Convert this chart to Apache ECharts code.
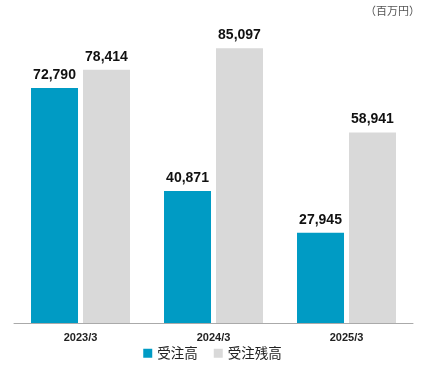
<!DOCTYPE html>
<html><head><meta charset="utf-8">
<script src="https://cdn.jsdelivr.net/npm/echarts@6/dist/echarts.min.js"></script>
<style>html,body{margin:0;padding:0;background:#fff}#c{width:425px;height:380px}</style>
</head><body><div id="c"></div>
<script>
const categories = ['2023/3', '2024/3', '2025/3'];
const orders = [72790, 40871, 27945];
const backlog = [78414, 85097, 58941];
const seriesNames = ['受注高', '受注残高'];
const unitLabel = '（百万円）';

const chart = echarts.init(document.getElementById('c'));
const fontFam = '"Noto Sans CJK JP", "Liberation Sans", Arial, sans-serif';
const lbl = {show: true, position: 'top', distance: 6, color: '#111', fontWeight: 'bold', fontSize: 14,
  fontFamily: '"Liberation Sans", Arial, sans-serif',
  formatter: p => p.value.toLocaleString('en-US')};
chart.setOption({
  animation: false,
  graphic: [{type: 'text', right: 5, top: 5, style: {text: unitLabel, fontSize: 11, fill: '#555', fontFamily: fontFam}}],
  grid: {left: 14, right: 12, top: 0, bottom: 57},
  legend: {bottom: 15, left: 'center', itemWidth: 9, itemHeight: 9, itemGap: 16,
    icon: 'rect', textStyle: {fontSize: 13.5, color: '#222', fontFamily: fontFam},
    data: seriesNames},
  xAxis: {type: 'category', data: categories,
    axisLine: {lineStyle: {color: '#aaa', width: 1}}, axisTick: {show: false},
    axisLabel: {color: '#222', fontSize: 11, fontWeight: 'bold', margin: 9, fontFamily: '"Liberation Sans", Arial, sans-serif'}},
  yAxis: {type: 'value', min: 0, max: 100000, show: false, splitLine: {show: false}},
  series: [
    {name: seriesNames[0], type: 'bar', data: orders, barWidth: 47, barGap: '10.6%',
      itemStyle: {color: '#009BC4'}, label: lbl},
    {name: seriesNames[1], type: 'bar', data: backlog, barWidth: 47,
      itemStyle: {color: '#D9D9D9'}, label: lbl}
  ]
});
</script></body></html>
